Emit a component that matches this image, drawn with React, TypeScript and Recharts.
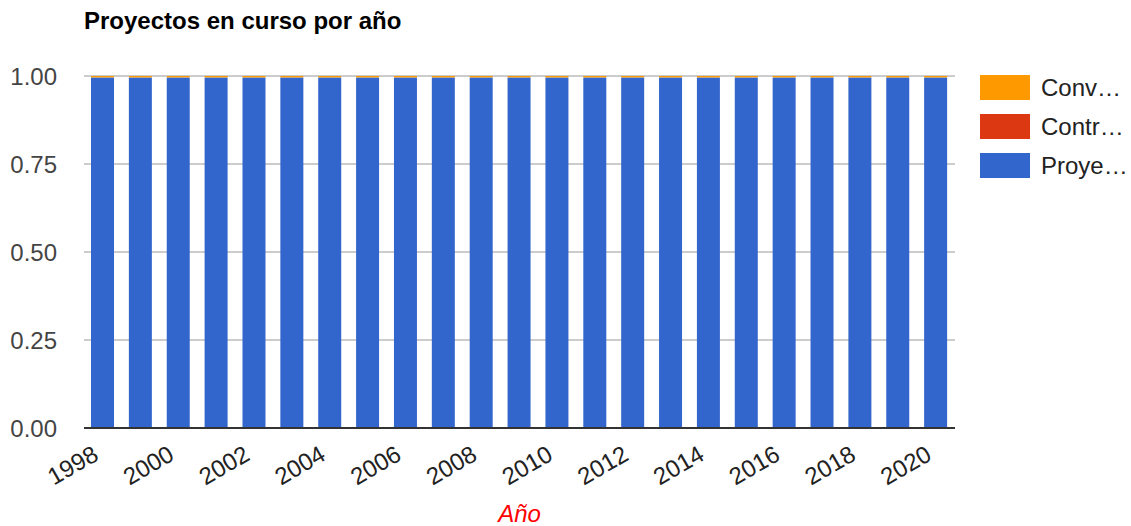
import React from "react";
import { BarChart, Bar, XAxis, YAxis, CartesianGrid } from "recharts";

const years = ["1998","1999","2000","2001","2002","2003","2004","2005","2006","2007","2008","2009","2010","2011","2012","2013","2014","2015","2016","2017","2018","2019","2020"];
const proyectos = [0.996,0.996,0.996,0.996,0.996,0.996,0.996,0.996,0.996,0.996,0.996,0.996,0.996,0.996,0.996,0.996,0.996,0.996,0.996,0.996,0.996,0.996,0.996];
const contratos = [0,0,0,0,0,0,0,0,0,0,0,0,0,0,0,0,0,0,0,0,0,0,0];
const convenios = [0.004,0.004,0.004,0.004,0.004,0.004,0.004,0.004,0.004,0.004,0.004,0.004,0.004,0.004,0.004,0.004,0.004,0.004,0.004,0.004,0.004,0.004,0.004];
const yTicks = [0, 0.25, 0.5, 0.75, 1];

const seriesMeta = [
  { key: "convenios", label: "Conv…", color: "#ff9900" },
  { key: "contratos", label: "Contr…", color: "#dc3912" },
  { key: "proyectos", label: "Proye…", color: "#3366cc" },
];

const data = years.map((y, i) => ({
  year: y,
  proyectos: proyectos[i],
  contratos: contratos[i],
  convenios: convenios[i],
}));

const FONT = "Arial, 'Liberation Sans', Helvetica, sans-serif";

const XTick = (props: any) => {
  const { x, y, payload } = props;
  return (
    <g transform={`translate(${x - 3},${y + 23})`}>
      <text
        transform="rotate(-30)"
        textAnchor="end"
        fill="#222"
        fontSize={24}
        fontFamily={FONT}
      >
        {payload.value}
      </text>
    </g>
  );
};

const AxisTitle = (props: any) => {
  const vb = props.viewBox || {};
  return (
    <text
      x={vb.x + vb.width / 2}
      y={vb.y + 94}
      textAnchor="middle"
      fill="#ff0000"
      fontStyle="italic"
      fontSize={24}
      fontFamily={FONT}
    >
      Año
    </text>
  );
};

export default function App() {
  return (
    <div style={{ position: "absolute", left: 0, top: 0, width: 1131, height: 526, background: "#fff" }}>
      <div
        style={{
          position: "absolute",
          left: 84,
          top: 7,
          fontFamily: FONT,
          fontWeight: "bold",
          fontSize: 24,
          lineHeight: "28px",
          color: "#000",
          whiteSpace: "nowrap",
        }}
      >
        Proyectos en curso por año
      </div>
      <div style={{ position: "absolute", left: 980, top: 75, fontFamily: FONT }}>
        {seriesMeta.map((s) => (
          <div key={s.key} style={{ display: "flex", alignItems: "center", height: 25, marginBottom: 14 }}>
            <div style={{ width: 50, height: 25, background: s.color }} />
            <span style={{ marginLeft: 11, fontSize: 24, lineHeight: "25px", color: "#222", whiteSpace: "nowrap" }}>{s.label}</span>
          </div>
        ))}
      </div>
      <BarChart
        width={1131}
        height={526}
        data={data}
        stackOffset="expand"
        margin={{ top: 76, right: 176, bottom: 0, left: 0 }}
      >
        <CartesianGrid vertical={false} stroke="#cccccc" strokeWidth={2} />
        <XAxis
          dataKey="year"
          interval={1}
          tickLine={false}
          axisLine={{ stroke: "#333", strokeWidth: 2 }}
          tick={<XTick />}
          height={98}
          label={<AxisTitle />}
        />
        <YAxis
          width={84}
          domain={[0, 1]}
          ticks={yTicks}
          tickFormatter={(v: number) => v.toFixed(2)}
          axisLine={false}
          tickLine={false}
          tickMargin={21}
          tick={{ fill: "#444", fontSize: 24, fontFamily: FONT }}
        />
        <Bar dataKey="proyectos" stackId="a" fill="#3366cc" barSize={23} isAnimationActive={false} />
        <Bar dataKey="contratos" stackId="a" fill="#dc3912" barSize={23} isAnimationActive={false} />
        <Bar dataKey="convenios" stackId="a" fill="#ff9900" barSize={23} isAnimationActive={false} />
      </BarChart>
    </div>
  );
}
